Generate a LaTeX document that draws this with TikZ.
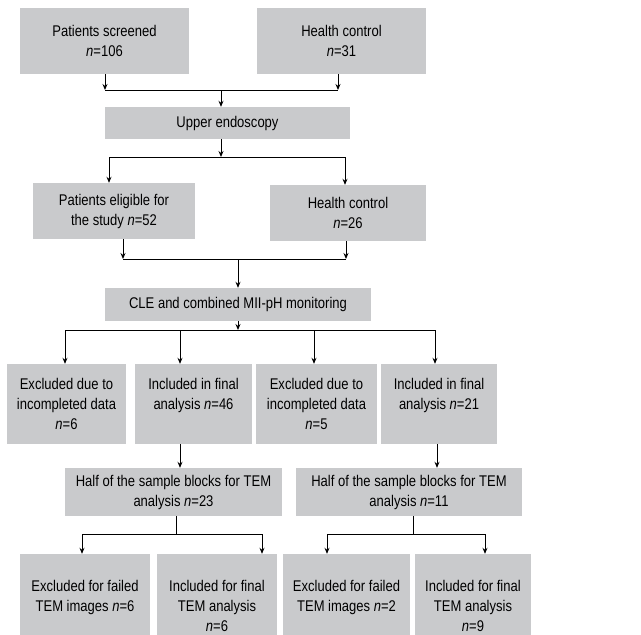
\documentclass[tikz,border=0pt]{standalone}
\usepackage{fontspec}
\setmainfont{Liberation Sans}[FakeStretch=0.84]
\usetikzlibrary{arrows.meta}
\definecolor{boxgray}{RGB}{201,202,204}
\newcommand{\botbox}[2]{\parbox[c][81pt][t]{#1}{\centering\vspace*{26pt}#2\par}}
\begin{document}
\begin{tikzpicture}[x=1pt,y=-1pt,
  box/.style={fill=boxgray, inner sep=0pt, align=center, font=\fontsize{15.5}{20}\selectfont},
  bbox/.style={fill=boxgray, inner sep=0pt, font=\fontsize{15.5}{20}\selectfont},
  line/.style={line width=0.9pt, black},
  arr/.style={line, -{Stealth[length=6pt,width=5pt]}}]
\useasboundingbox (0,0) rectangle (641,635);
% row 1
\node[box, minimum width=169pt, minimum height=66pt] (A) at (104.5,41) {Patients screened\\\textit{n}=106};
\node[box, minimum width=169pt, minimum height=66pt] (B) at (341.5,41) {Health control\\\textit{n}=31};
\node[box, minimum width=245pt, minimum height=32pt] (C) at (227.5,123) {Upper endoscopy};
% row 2
\node[box, minimum width=162pt, minimum height=56pt] (D) at (114,211) {Patients eligible for\\the study \textit{n}=52};
\node[box, minimum width=156pt, minimum height=56pt] (E) at (348,213) {Health control\\\textit{n}=26};
\node[box, minimum width=266pt, minimum height=33pt] (F) at (238,304.5) {CLE and combined MII-pH monitoring};
% row 4
\node[box, minimum width=119pt, minimum height=80pt] (G1) at (66.5,404) {Excluded due to\\incompleted data\\\textit{n}=6};
\node[box, minimum width=117pt, minimum height=80pt] (G2) at (193.5,404) {Included in final\\analysis \textit{n}=46\\\mbox{}};
\node[box, minimum width=121pt, minimum height=80pt] (G3) at (316.5,404) {Excluded due to\\incompleted data\\\textit{n}=5};
\node[box, minimum width=116pt, minimum height=80pt] (G4) at (439,404) {Included in final\\analysis \textit{n}=21\\\mbox{}};
% row 5
\node[box, minimum width=217pt, minimum height=48pt] (H1) at (173.5,492) {Half of the sample blocks for TEM\\analysis \textit{n}=23};
\node[box, minimum width=226pt, minimum height=48pt] (H2) at (409,492) {Half of the sample blocks for TEM\\analysis \textit{n}=11};
% row 6
\node[bbox] (I1) at (85,594.5) {\botbox{130pt}{Excluded for failed\\TEM images \textit{n}=6}};
\node[bbox] (I2) at (217,594.5) {\botbox{120pt}{Included for final\\TEM analysis\\\textit{n}=6}};
\node[bbox] (I3) at (346.5,594.5) {\botbox{127pt}{Excluded for failed\\TEM images \textit{n}=2}};
\node[bbox] (I4) at (473,594.5) {\botbox{116pt}{Included for final\\TEM analysis\\\textit{n}=9}};
% junctions
\coordinate (a1) at (105,90);
\coordinate (a2) at (338,90);
\coordinate (j1) at (221,90);
\coordinate (j2) at (221,157);
\coordinate (d1) at (109,157);
\coordinate (e1) at (345,157);
\coordinate (j3l) at (123,259);
\coordinate (j3r) at (346,259);
\coordinate (j3) at (238,259);
\coordinate (j4) at (238,330);
\coordinate (g1) at (65,330);
\coordinate (g2) at (180,330);
\coordinate (g3) at (314,330);
\coordinate (g4) at (435,330);
\coordinate (h1) at (180,456);
\coordinate (h2) at (437,456);
\coordinate (k1) at (176,534);
\coordinate (k1l) at (82,534);
\coordinate (k1r) at (262,534);
\coordinate (k2) at (413,534);
\coordinate (k2l) at (327,534);
\coordinate (k2r) at (485,534);
% connectors
\draw[arr] (a1 |- A.south) -- (a1);
\draw[arr] (a2 |- B.south) -- (a2);
\draw[line] (a1) -- (a2);
\draw[arr] (j1) -- (j1 |- C.north);
\draw[arr] (j2 |- C.south) -- (j2);
\draw[line] (d1) -- (e1);
\draw[arr] (d1) -- (d1 |- D.north);
\draw[arr] (e1) -- (e1 |- E.north);
\draw[arr] (j3l |- D.south) -- (j3l);
\draw[arr] (j3r |- E.south) -- (j3r);
\draw[line] (j3l) -- (j3r);
\draw[arr] (j3) -- (j3 |- F.north);
\draw[arr] (j4 |- F.south) -- (j4);
\draw[line] (g1) -- (g4);
\draw[arr] (g1) -- (g1 |- G1.north);
\draw[arr] (g2) -- (g2 |- G2.north);
\draw[arr] (g3) -- (g3 |- G3.north);
\draw[arr] (g4) -- (g4 |- G4.north);
\draw[arr] (h1 |- G2.south) -- (h1 |- H1.north);
\draw[arr] (h2 |- G4.south) -- (h2 |- H2.north);
\draw[line] (k1 |- H1.south) -- (k1);
\draw[line] (k1l) -- (k1r);
\draw[arr] (k1l) -- (k1l |- I1.north);
\draw[arr] (k1r) -- (k1r |- I2.north);
\draw[line] (k2 |- H2.south) -- (k2);
\draw[line] (k2l) -- (k2r);
\draw[arr] (k2l) -- (k2l |- I3.north);
\draw[arr] (k2r) -- (k2r |- I4.north);
\end{tikzpicture}
\end{document}
